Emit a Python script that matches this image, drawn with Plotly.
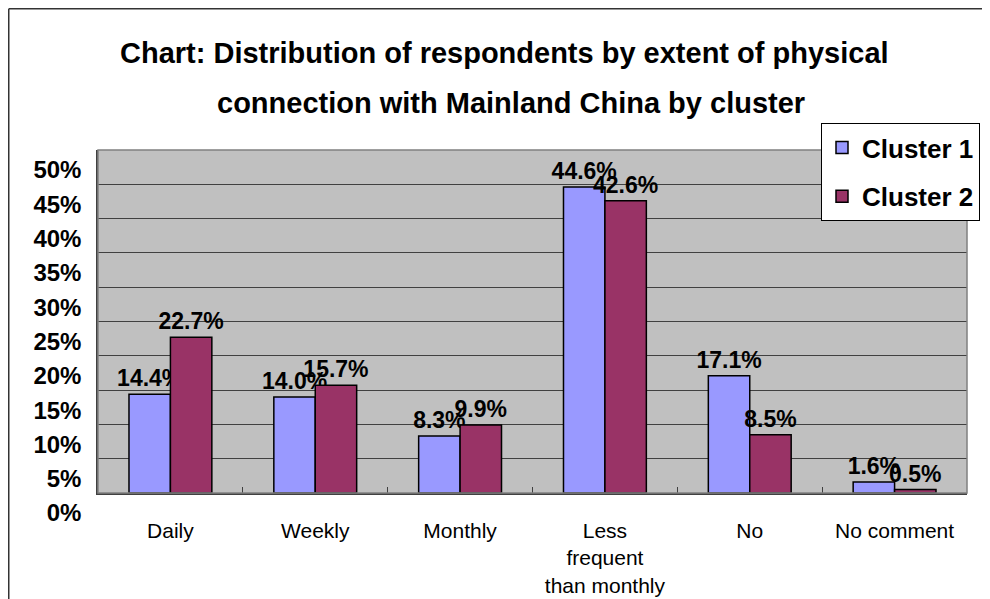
import plotly.graph_objects as go

# ---- data ----
categories = ["Daily", "Weekly", "Monthly", "Less<br>frequent<br>than monthly", "No", "No comment"]
cluster1 = [14.4, 14.0, 8.3, 44.6, 17.1, 1.6]
cluster2 = [22.7, 15.7, 9.9, 42.6, 8.5, 0.5]
series_names = ["Cluster 1", "Cluster 2"]
y_tick_values = [0, 5, 10, 15, 20, 25, 30, 35, 40, 45, 50]
y_tick_labels = ["0%", "5%", "10%", "15%", "20%", "25%", "30%", "35%", "40%", "45%", "50%"]
title_lines = ["Chart: Distribution of respondents by extent of physical",
               "connection with Mainland China by cluster"]

# ---- layout geometry ----
# the page body adds an 8px offset, so screen px = figure px + 8
OFF = 8
W, H = 990, 599
PLOT_L, PLOT_R, PLOT_T, PLOT_B = 98, 967, 150, 493   # target screen pixels
L = PLOT_L - OFF
T = PLOT_T - OFF
R = W - (PLOT_R - OFF)
B = H - (PLOT_B - OFF)
PW, PH = W - L - R, H - T - B

def sx(px):  # screen px -> paper x
    return (px - OFF - L) / PW

def sy(py):  # screen px -> paper y
    return (H - B - (py - OFF)) / PH

FONT = "Liberation Sans, Arial, sans-serif"
colors = ["#9999FF", "#993366"]

fig = go.Figure()
for name, vals, col in zip(series_names, [cluster1, cluster2], colors):
    fig.add_trace(go.Bar(
        x=categories, y=vals, name=name, legendgroup=name,
        marker=dict(color=col, line=dict(color="#000000", width=1.5)),
        texttemplate="%{y:.1f}%", textposition="outside",
        textfont=dict(family=FONT, size=23, color="#000000", weight="bold"),
        constraintext="none", cliponaxis=False,
    ))

fig.update_layout(
    template="none",
    width=W, height=H,
    margin=dict(l=L, r=R, t=T, b=B, pad=0, autoexpand=False),
    paper_bgcolor="#FFFFFF", plot_bgcolor="#C0C0C0",
    barmode="group", bargap=0.428, bargroupgap=0,
    font=dict(family=FONT, color="#000000"),
    showlegend=True,
    legend=dict(
        x=sx(821), y=sy(123), xanchor="left", yanchor="top",
        bgcolor="#FFFFFF", bordercolor="#000000", borderwidth=1,
        font=dict(family=FONT, size=26, color="#000000", weight="bold"),
        tracegroupgap=12, traceorder="grouped",
    ),
    xaxis=dict(
        type="category", showgrid=False, zeroline=False, automargin=False,
        showline=True, linecolor="#404040", linewidth=1.5,
        ticks="inside", ticklen=6, tickcolor="#404040", tickson="boundaries",
        tickfont=dict(family=FONT, size=21, color="#000000"),
        ticklabelstandoff=18,
    ),
    yaxis=dict(
        range=[0, 50], tickvals=y_tick_values, ticktext=y_tick_labels,
        showgrid=True, gridcolor="#404040", gridwidth=1, zeroline=False,
        automargin=False,
        showline=True, linecolor="#404040", linewidth=1.5,
        ticks="inside", ticklen=6, tickcolor="#404040",
        tickfont=dict(family=FONT, size=24, color="#000000", weight="bold"),
        ticklabelshift=20, ticklabelstandoff=10,
    ),
)

# title lines
for txt, cx, cy in zip(title_lines, [504, 511], [53, 102.5]):
    fig.add_annotation(
        text=txt, xref="paper", yref="paper", x=sx(cx), y=sy(cy),
        xanchor="center", yanchor="middle", showarrow=False,
        font=dict(family=FONT, size=29, color="#000000", weight="bold"),
    )

# plot-area grey border and chart outer border
fig.add_shape(type="rect", xref="paper", yref="paper", x0=0, y0=0, x1=1, y1=1,
              line=dict(color="#808080", width=1.5), layer="above")
fig.add_shape(type="line", xref="paper", yref="paper",
              x0=sx(8.75), y0=sy(8.75), x1=sx(1000), y1=sy(8.75),
              line=dict(color="#333333", width=1.5))
fig.add_shape(type="line", xref="paper", yref="paper",
              x0=sx(8.75), y0=sy(8.75), x1=sx(8.75), y1=sy(620),
              line=dict(color="#333333", width=1.5))

fig.write_html("out.html")
